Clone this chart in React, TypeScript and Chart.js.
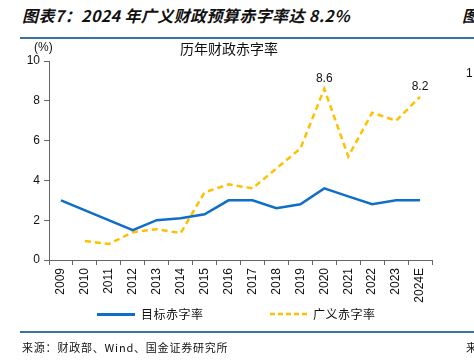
import React, { useEffect, useRef } from "react";
import { Chart, registerables } from "chart.js";

Chart.register(...registerables);

const categories = ["2009", "2010", "2011", "2012", "2013", "2014", "2015", "2016", "2017", "2018", "2019", "2020", "2021", "2022", "2023", "2024E"];
const targetDeficit: (number | null)[] = [3.0, null, null, 1.5, 2.0, 2.1, 2.3, 3.0, 3.0, 2.6, 2.8, 3.6, 3.2, 2.8, 3.0, 3.0];
const broadDeficit: (number | null)[] = [null, 0.95, 0.8, 1.4, 1.55, 1.35, 3.4, 3.8, 3.6, 4.6, 5.6, 8.6, 5.2, 7.4, 7.0, 8.2];
const labeledPoints = [11, 15];
const yTicks = { min: 0, max: 10, step: 2 };

const BLUE = "#0F6FC6";
const YELLOW = "#FFC000";
const LATIN = "'Liberation Sans', Arial, sans-serif";
const CJK = "'Noto Sans CJK SC', sans-serif";

const valueLabels = {
  id: "valueLabels",
  afterDatasetsDraw(chart: any) {
    const ctx = chart.ctx;
    const meta = chart.getDatasetMeta(1);
    ctx.save();
    ctx.font = `12px ${LATIN}`;
    ctx.fillStyle = "#111";
    ctx.textAlign = "center";
    ctx.textBaseline = "bottom";
    labeledPoints.forEach((i) => {
      const pt = meta.data[i];
      const v = broadDeficit[i];
      if (pt && v != null) ctx.fillText(v.toFixed(1), pt.x, pt.y - 4);
    });
    ctx.restore();
  },
};

export default function App() {
  const ref = useRef<HTMLCanvasElement>(null);
  useEffect(() => {
    if (!ref.current) return;
    const chart = new Chart(ref.current, {
      type: "line",
      data: {
        labels: categories,
        datasets: [
          {
            label: "目标赤字率",
            data: targetDeficit,
            borderColor: BLUE,
            backgroundColor: BLUE,
            borderWidth: 2.5,
            pointRadius: 0,
            spanGaps: true,
            tension: 0,
          },
          {
            label: "广义赤字率",
            data: broadDeficit,
            borderColor: YELLOW,
            backgroundColor: YELLOW,
            borderWidth: 2.5,
            borderDash: [6, 4],
            pointRadius: 0,
            spanGaps: true,
            tension: 0,
          },
        ],
      },
      options: {
        responsive: false,
        animation: false,
        devicePixelRatio: 1,
        layout: { padding: { left: 19, right: 42, top: 61, bottom: 50 } },
        plugins: { legend: { display: false }, tooltip: { enabled: false }, title: { display: false } },
        scales: {
          x: {
            type: "category",
            offset: true,
            grid: { display: true, drawOnChartArea: false, offset: true, tickLength: 5, color: "#666" },
            border: { color: "#666" },
            ticks: { maxRotation: 90, minRotation: 90, padding: 3, color: "#111", font: { family: LATIN, size: 12 } },
            afterFit: (s: any) => { s.height = 50; },
          },
          y: {
            min: yTicks.min,
            max: yTicks.max,
            ticks: { stepSize: yTicks.step, padding: 4, color: "#111", font: { family: LATIN, size: 12 } },
            grid: { display: true, drawOnChartArea: false, tickLength: 5, color: "#666" },
            border: { color: "#666" },
            afterFit: (s: any) => { s.width = 30; },
          },
        },
      },
      plugins: [valueLabels],
    });
    return () => chart.destroy();
  }, []);

  const abs = (style: React.CSSProperties): React.CSSProperties => ({ position: "absolute", whiteSpace: "nowrap", ...style });

  return (
    <div style={{ position: "fixed", left: 0, top: 0, width: 474, height: 360, overflow: "hidden", background: "#fff" }}>
      <div style={abs({ left: 22, top: 4, fontFamily: CJK, fontSize: 16, fontWeight: 600, fontStyle: "italic", color: "#111", lineHeight: "22px", letterSpacing: 0.4 })}>
        图表7：2024 年广义财政预算赤字率达 8.2%
      </div>
      <div style={abs({ left: 462, top: 4, fontFamily: CJK, fontSize: 16, fontWeight: 600, fontStyle: "italic", color: "#111", lineHeight: "22px" })}>图</div>
      <div style={abs({ left: 20, top: 37, width: 454, height: 2, background: "#3A739E" })} />
      <canvas ref={ref} width={474} height={360} style={abs({ left: 0, top: 0, width: 474, height: 360 })} />
      <div style={abs({ left: 34, top: 40, fontFamily: LATIN, fontSize: 12, color: "#111", lineHeight: "14px" })}>(%)</div>
      <div style={abs({ left: 180, top: 39, fontFamily: CJK, fontSize: 14, color: "#111", lineHeight: "18px" })}>历年财政赤字率</div>
      <div style={abs({ left: 466, top: 66, fontFamily: LATIN, fontSize: 12, color: "#111", lineHeight: "14px" })}>1</div>
      <div style={abs({ left: 97, top: 313, width: 38, height: 2.5, background: BLUE })} />
      <div style={abs({ left: 141, top: 305, fontFamily: CJK, fontSize: 12, color: "#111", lineHeight: "18px", letterSpacing: 0.5 })}>目标赤字率</div>
      <svg style={abs({ left: 270, top: 309, width: 40, height: 10 })} width={40} height={10}>
        <line x1={0} y1={5} x2={38} y2={5} stroke={YELLOW} strokeWidth={2.5} strokeDasharray="5 3" />
      </svg>
      <div style={abs({ left: 313, top: 305, fontFamily: CJK, fontSize: 12, color: "#111", lineHeight: "18px", letterSpacing: 0.5 })}>广义赤字率</div>
      <div style={abs({ left: 20, top: 331, width: 454, height: 2, background: "#3A739E" })} />
      <div style={abs({ left: 22, top: 339, fontFamily: CJK, fontSize: 11, color: "#111", lineHeight: "16px", letterSpacing: 0.8 })}>来源：财政部、Wind、国金证券研究所</div>
      <div style={abs({ left: 466, top: 339, fontFamily: CJK, fontSize: 11, color: "#111", lineHeight: "16px" })}>来</div>
    </div>
  );
}
